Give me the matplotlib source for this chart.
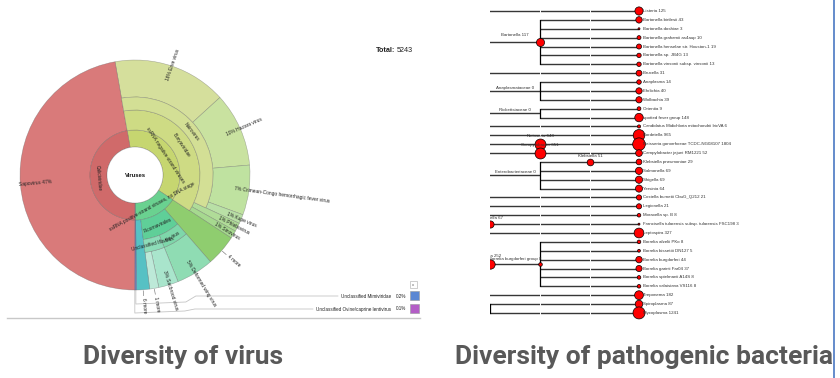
"""
Krona-style virus sunburst + pathogenic bacteria tree, side by side.
Writes out.png (840x378).
"""

import numpy as np
import matplotlib
matplotlib.use("Agg")
import matplotlib.pyplot as plt
from matplotlib.patches import Wedge, Rectangle

# ── virus composition (Krona, reads) ─────────────────────────────────────────
TOTAL = 5243
VIRUS_NAMES = ["Erve virus", "Hazara virus", "Crimean-Congo hemorrhagic fever virus",
               "Kupe virus", "Phlebovirus", "Sinovirus", "4 more",
               "Deformed wing virus", "Sacbrood virus", "1 more", "6 more",
               "Unclassified Mimiviridae", "Unclassified Ovine/caprine lentivirus",
               "Sapovirus"]
VIRUS_COUNTS = [839, 545, 367, 68, 63, 58, 230, 277, 146, 67, 96, 10, 5, 2472]
NEG = "ssRNA negative-strand viruses"
POS = "ssRNA positive-strand viruses, no DNA stage"
VIRUS_RING1 = [NEG] * 6 + [POS] * 5 + [None, None, "Caliciviridae"]
VIRUS_RING2 = ["Bunyaviridae"] * 6 + [None] + ["Picornavirales"] * 3 + [None] * 4
VIRUS_RING3 = ["Nairovirus"] * 4 + [None] * 3 + ["Iflavirus", "Unclassified Iflavirus",
                                                 "Unclassified Iflavirus"] + [None] * 4
VIRUS_COLORS = ["#d5df9c", "#c9e2a0", "#bfe2a0", "#b9e0a6", "#b0dc98", "#a6d98f",
                "#8fcd6f", "#8fdcb3", "#a9e5cc", "#bde9d8", "#56c1c4",
                "#5b87d3", "#b35ec6", "#d97a7a"]
GROUP_COLORS = {NEG: "#c6d670", POS: "#6ad190", "Caliciviridae": "#d06a6a",
                "Bunyaviridae": "#cedb84", "Picornavirales": "#5fcf98",
                "Nairovirus": "#d3df95", "Iflavirus": "#7ed7aa",
                "Unclassified Iflavirus": "#8ddcb8"}

# ── pathogenic bacteria tree ─────────────────────────────────────────────────
BACT_LABELS = ["Listeria", "Bartonella birtlesii", "Bartonella doshiae",
               "Bartonella grahamii as4aup", "Bartonella henselae str. Houston-1",
               "Bartonella sp. JB4G", "Bartonella vinsonii subsp. vinsonii", "Brucella",
               "Anaplasma", "Ehrlichia", "Wolbachia", "Orientia", "spotted fever group",
               "Candidatus Midichloria mitochondrii IricVA", "Bordetella",
               "Neisseria gonorrhoeae TCDC-NG08107", "Campylobacter jejuni RM1221",
               "Klebsiella pneumoniae", "Salmonella", "Shigella", "Yersinia",
               "Coxiella burnetii CbuG_Q212", "Legionella", "Moraxella sp. B",
               "Francisella tularensis subsp. tularensis FSC198", "Leptospira",
               "Borrelia afzelii PKo", "Borrelia bissettii DN127", "Borrelia burgdorferi",
               "Borrelia garinii Far04", "Borrelia spielmanii A14S",
               "Borrelia valaisiana VS116", "Treponema", "Spiroplasma", "Mycoplasma"]
BACT_COUNTS = [125, 43, 3, 10, 19, 13, 13, 31, 14, 40, 39, 9, 148, 6, 965, 1804, 52,
               29, 69, 69, 64, 21, 21, 8, 3, 327, 8, 5, 44, 37, 8, 8, 182, 87, 1241]
NODE_NAMES = ["Bartonella", "Anaplasmataceae", "Rickettsiaceae", "Neisseria",
              "Campylobacter", "Enterobacteriaceae", "Klebsiella", "Francisella",
              "Borrelia", "Borrelia burgdorferi group", ""]
NODE_COUNTS = [117, 0, 0, 648, 651, 0, 51, 67, 252, 8, 0]
NODE_DEPTH = [1, 1, 1, 1, 1, 1, 2, 0, 0, 1, 0]
NODE_FIRST = [1, 8, 11, 15, 16, 17, 17, 24, 26, 26, 33]
NODE_LAST = [6, 10, 12, 15, 16, 20, 17, 24, 31, 31, 34]

# ── style / layout ───────────────────────────────────────────────────────────
W, H = 840, 378
CX, CY = 135, 175                     # sunburst centre (px, y down)
RINGS = [28, 45, 65, 78, 115]
START = 100.0                         # degrees, slices run clockwise
KRONA_FONT = ["Liberation Sans", "DejaVu Sans"]
EDGE = (0.35, 0.35, 0.35, 0.45)
COL_X = {-1: 440, 0: 490, 1: 540, 2: 590, 3: 639}
ROW0, ROW_STEP = 11.0, 8.88           # px of first leaf row, px between rows
TREE_LEFT, TREE_RIGHT = 490, 834
BLUE_LINE = "#4a78c2"
CAPTION = "#595959"

fig = plt.figure(figsize=(W / 100, H / 100), dpi=100)
ax_bg = fig.add_axes([0, 0, 1, 1])
ax_bg.set_xlim(0, W)
ax_bg.set_ylim(H, 0)
ax_bg.axis("off")

ax = fig.add_axes([0, 0, 1, 1])
ax.set_xlim(-CX, W - CX)
ax.set_ylim(-(H - CY), CY)
ax.axis("off")
ax.patch.set_alpha(0)


def polar(r, a):
    return r * np.cos(np.radians(a)), r * np.sin(np.radians(a))


def upright(rot):
    while rot > 90:
        rot -= 180
    while rot <= -90:
        rot += 180
    return rot


# ── sunburst ─────────────────────────────────────────────────────────────────
counts = np.array(VIRUS_COUNTS, dtype=float)
widths = counts / TOTAL * 360.0
a_hi = START - np.concatenate([[0], np.cumsum(widths)[:-1]])
a_lo = a_hi - widths
rings = [VIRUS_RING1, VIRUS_RING2, VIRUS_RING3]

# leaves
for i, name in enumerate(VIRUS_NAMES):
    depth = sum(1 for rg in rings if rg[i] is not None)
    r_in, r_out = RINGS[depth], RINGS[-1]
    ax.add_patch(Wedge((0, 0), r_out, a_lo[i], a_hi[i], width=r_out - r_in,
                       facecolor=VIRUS_COLORS[i], edgecolor=EDGE, lw=0.4))
    mid = (a_lo[i] + a_hi[i]) / 2
    pct = counts[i] / TOTAL * 100
    rot = upright(mid)
    flipped = abs(rot - mid) > 1
    if name.endswith("more"):
        x0, y0 = polar(r_out + 1, mid)
        x1, y1 = polar(r_out + 6, mid)
        ax.plot([x0, x1], [y0, y1], color="#666666", lw=0.4)
        tx, ty = polar(r_out + 8, mid)
        ax.text(tx, ty, name, rotation=rot, rotation_mode="anchor",
                ha="right" if flipped else "left", va="center",
                fontsize=3.5, family=KRONA_FONT, color="#222222")
    elif pct >= 1:
        tx, ty = polar((r_in + r_out) / 2 + 3.5, mid)
        label = f"{name} {pct:.0f}%" if flipped else f"{pct:.0f}% {name}"
        ax.text(tx, ty, label, rotation=rot, rotation_mode="anchor",
                ha="right" if flipped else "left", va="center",
                fontsize=3.5, family=KRONA_FONT, color="#222222")

# inner rings (groups)
for k, rg in enumerate(rings):
    r_in, r_out = RINGS[k], RINGS[k + 1]
    i = 0
    while i < len(rg):
        if rg[i] is None:
            i += 1
            continue
        j = i
        while j + 1 < len(rg) and rg[j + 1] == rg[i]:
            j += 1
        lo, hi = a_lo[j], a_hi[i]
        ax.add_patch(Wedge((0, 0), r_out, lo, hi, width=r_out - r_in,
                           facecolor=GROUP_COLORS[rg[i]], edgecolor=EDGE, lw=0.4))
        mid = (lo + hi) / 2
        tx, ty = polar((r_in + r_out) / 2, mid)
        ax.text(tx, ty, rg[i], rotation=upright(mid - 90), rotation_mode="anchor",
                ha="center", va="center", fontsize=3.4, family=KRONA_FONT,
                color="#222222")
        i = j + 1

ax.add_patch(plt.Circle((0, 0), RINGS[0], facecolor="white", edgecolor=EDGE, lw=0.4))
ax.text(0, 0, "Viruses", ha="center", va="center", fontsize=4.2,
        fontweight="bold", family=KRONA_FONT, color="#111111")

ax_bg.text(395, 50, "Total:", ha="right", va="center", fontsize=5.2,
           fontweight="bold", family=KRONA_FONT, color="#222222")
ax_bg.text(397, 50, f"{TOTAL}", ha="left", va="center", fontsize=5.2,
           family=KRONA_FONT, color="#222222")

# tiny slices go to the legend box, with leader lines
ax_bg.add_patch(Rectangle((410, 281), 7, 7, facecolor="white",
                          edgecolor="#bbbbbb", lw=0.5))
ax_bg.text(413.5, 284.5, "x", ha="center", va="center", fontsize=3,
           family=KRONA_FONT, color="#555555")
fig.canvas.draw()
inv = ax_bg.transData.inverted()
small = [i for i in range(len(VIRUS_NAMES)) if counts[i] / TOTAL * 100 < 0.5]
for row, i in enumerate(small):
    y_row = 296 + row * 13
    ax_bg.add_patch(Rectangle((410, y_row - 5), 9, 9, facecolor=VIRUS_COLORS[i],
                              edgecolor="#999999", lw=0.4))
    ax_bg.text(406, y_row, f"{counts[i] / TOTAL * 100:.1f}%", ha="right", va="center",
               fontsize=3.3, family=KRONA_FONT, color="#222222")
    t = ax_bg.text(391, y_row, VIRUS_NAMES[i], ha="right", va="center",
                   fontsize=3.3, family=KRONA_FONT, color="#222222")
    bb = t.get_window_extent(renderer=fig.canvas.get_renderer())
    x_end = inv.transform((bb.x0, bb.y0))[0] - 3
    mid = (a_lo[i] + a_hi[i]) / 2
    sx, sy = polar(RINGS[-1], mid)
    sx, sy = CX + sx, CY - sy
    drop = 8 if row == 0 else 4
    ax_bg.plot([sx, sx, sx + 50, sx + 60, x_end],
               [sy, y_row + drop, y_row + drop - 2, y_row, y_row],
               color="#c4c4c4", lw=0.6)

ax_bg.plot([7, 420], [318, 318], color="#c8c8c8", lw=1.0)

# ── bacteria tree ────────────────────────────────────────────────────────────
axt = fig.add_axes([TREE_LEFT / W, 0, (TREE_RIGHT - TREE_LEFT) / W, 1])
axt.set_xlim(TREE_LEFT, TREE_RIGHT)
axt.set_ylim((H - ROW0) / ROW_STEP, -ROW0 / ROW_STEP)
axt.axis("off")
axt.patch.set_alpha(0)

n_leaf = len(BACT_LABELS)
node_y = [(f + l) / 2 for f, l in zip(NODE_FIRST, NODE_LAST)]


def parent_of_leaf(i):
    best = None
    for j in range(len(NODE_NAMES)):
        if NODE_FIRST[j] <= i <= NODE_LAST[j]:
            if best is None or NODE_DEPTH[j] > NODE_DEPTH[best]:
                best = j
    return best


def parent_of_node(j):
    best = None
    for k in range(len(NODE_NAMES)):
        if k != j and NODE_DEPTH[k] < NODE_DEPTH[j] and \
                NODE_FIRST[k] <= NODE_FIRST[j] and NODE_LAST[j] <= NODE_LAST[k]:
            if best is None or NODE_DEPTH[k] > NODE_DEPTH[best]:
                best = k
    return best


def size_px(c):
    return 3.83 * np.log10(c) + 0.16 if c > 0 else 0.0


children_y = {j: [] for j in range(len(NODE_NAMES))}
leaf_parent = [parent_of_leaf(i) for i in range(n_leaf)]
node_parent = [parent_of_node(j) for j in range(len(NODE_NAMES))]

for i in range(n_leaf):
    p = leaf_parent[i]
    px = COL_X[NODE_DEPTH[p]] if p is not None else COL_X[-1]
    axt.plot([px, COL_X[3]], [i, i], color="#363636", lw=1.0, zorder=1,
             solid_capstyle="butt")
    if p is not None:
        children_y[p].append(i)

for j in range(len(NODE_NAMES)):
    p = node_parent[j]
    px = COL_X[NODE_DEPTH[p]] if p is not None else COL_X[-1]
    axt.plot([px, COL_X[NODE_DEPTH[j]]], [node_y[j], node_y[j]], color="#363636",
             lw=1.0, zorder=1, solid_capstyle="butt")
    if p is not None:
        children_y[p].append(node_y[j])

# faint white column marks across the branches
for d in (1, 2):
    axt.plot([COL_X[d]] * 2, [-0.6, n_leaf - 0.4], color="white", lw=0.7, zorder=2)

for j in range(len(NODE_NAMES)):
    ys = children_y[j]
    if len(ys) > 1:
        axt.plot([COL_X[NODE_DEPTH[j]]] * 2, [min(ys), max(ys)], color="black",
                 lw=0.9, zorder=3)

leaf_sizes = [(size_px(c) * 0.72) ** 2 for c in BACT_COUNTS]
axt.scatter([COL_X[3]] * n_leaf, range(n_leaf), s=leaf_sizes, color="#ff0000",
            edgecolors="black", linewidths=0.5, zorder=4)
for i in range(n_leaf):
    axt.text(COL_X[3] + 4, i, f"{BACT_LABELS[i]} {BACT_COUNTS[i]}", ha="left",
             va="center", fontsize=3.2, family=KRONA_FONT, color="#333333", zorder=5)

for j in range(len(NODE_NAMES)):
    c = NODE_COUNTS[j]
    nx = COL_X[NODE_DEPTH[j]]
    if c > 0:
        axt.scatter([nx], [node_y[j]], s=(size_px(c) * 0.72) ** 2, color="#ff0000",
                    edgecolors="black", linewidths=0.5, zorder=4)
    if not NODE_NAMES[j]:
        continue
    p = node_parent[j]
    px = COL_X[NODE_DEPTH[p]] if p is not None else COL_X[-1]
    single = len(children_y[j]) <= 1
    lx = nx if single else (max(px, TREE_LEFT) + nx) / 2
    ly = node_y[j] - (size_px(c) / 2 + 3) / ROW_STEP
    axt.text(lx, ly, f"{NODE_NAMES[j]} {c}", ha="center", va="center",
             fontsize=3.2, family=KRONA_FONT, color="#333333", zorder=5, clip_on=True)

# ── frame line and captions ──────────────────────────────────────────────────
ax_bg.axvline(834, color=BLUE_LINE, lw=1.2)
cap_font = ["Roboto", "DejaVu Sans"]
ax_bg.text(83, 357, "Diversity of virus", ha="left", va="center", fontsize=19,
           fontweight="bold", family=cap_font, color=CAPTION)
ax_bg.text(833, 357, "Diversity of pathogenic bacteria", ha="right", va="center",
           fontsize=19, fontweight="bold", family=cap_font, color=CAPTION)

fig.savefig("out.png", dpi=100, facecolor="white")
print("Saved: out.png")
